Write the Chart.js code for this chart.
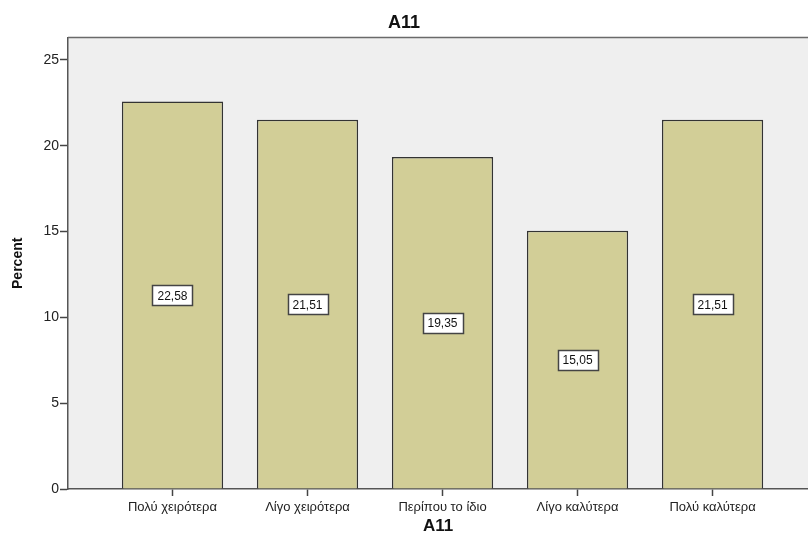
<!DOCTYPE html>
<html>
<head>
<meta charset="utf-8">
<style>
  html, body { margin: 0; padding: 0; background: #fff; overflow: hidden; }
  #wrap { width: 808px; height: 538px; }
</style>
<script src="https://cdn.jsdelivr.net/npm/chart.js@4/dist/chart.umd.min.js"></script>
</head>
<body>
<div id="wrap"><canvas id="chart-a11"></canvas></div>
<script>
// ── Data ──────────────────────────────────────────────────────────────────────
const categories = ['Πολύ χειρότερα', 'Λίγο χειρότερα', 'Περίπου το ίδιο', 'Λίγο καλύτερα', 'Πολύ καλύτερα'];
const percents   = [22.58, 21.51, 19.35, 15.05, 21.51];
const yTicks     = [0, 5, 10, 15, 20, 25];

const FONT = '"Liberation Sans", Arial, sans-serif';

// plot background + top frame line + boxed value labels
const spssLook = {
  id: 'spssLook',
  beforeDraw(chart) {
    const { ctx, chartArea: a } = chart;
    ctx.save();
    ctx.fillStyle = '#efefef';
    ctx.fillRect(a.left, a.top, a.right - a.left, a.bottom - a.top);
    ctx.restore();
  },
  afterDraw(chart) {
    const { ctx, chartArea: a } = chart;
    ctx.save();
    ctx.strokeStyle = '#6a6a6a';
    ctx.lineWidth = 1.5;
    ctx.beginPath();
    ctx.moveTo(a.left, a.top);
    ctx.lineTo(a.right, a.top);
    ctx.stroke();
    ctx.restore();
  },
  afterDatasetsDraw(chart) {
    const { ctx } = chart;
    const yScale = chart.scales.y;
    ctx.save();
    ctx.font = `12px ${FONT}`;
    ctx.textAlign = 'center';
    ctx.textBaseline = 'middle';
    chart.getDatasetMeta(0).data.forEach((bar, i) => {
      const txt = percents[i].toFixed(2).replace('.', ',');
      const cy  = yScale.getPixelForValue(percents[i] / 2);
      const w   = Math.round(ctx.measureText(txt).width + 10);
      const h   = 20;
      const x0  = Math.round(bar.x - w / 2) + 0.5;
      const y0  = Math.round(cy - h / 2) + 0.5;
      ctx.fillStyle = '#fff';
      ctx.fillRect(x0, y0, w, h);
      ctx.strokeStyle = '#444';
      ctx.lineWidth = 1.5;
      ctx.strokeRect(x0, y0, w, h);
      ctx.fillStyle = '#111';
      ctx.fillText(txt, bar.x, cy + 1);
    });
    ctx.restore();
  },
};

new Chart(document.getElementById('chart-a11'), {
  type: 'bar',
  data: {
    datasets: [{
      label: 'Percent',
      data: categories.map((c, i) => ({ x: i, y: percents[i] })),
      backgroundColor: '#d2ce97',
      borderColor: '#333',
      borderWidth: 1.5,
      categoryPercentage: 1,
      barPercentage: 0.75,
    }],
  },
  plugins: [spssLook],
  options: {
    responsive: true,
    maintainAspectRatio: false,
    animation: false,
    layout: { padding: 0 },
    plugins: {
      legend: { display: false },
      tooltip: { enabled: false },
      title: {
        display: true,
        text: 'A11',
        color: '#111',
        font: { family: FONT, size: 18, weight: 'bold' },
        padding: { top: 12, bottom: 4 },
      },
    },
    scales: {
      x: {
        type: 'linear',
        offset: false,
        min: -0.774,
        max: 4.707,
        afterBuildTicks: s => { s.ticks = categories.map((c, i) => ({ value: i })); },
        afterFit: s => { s.height = 49; },
        grid: { offset: false, drawOnChartArea: false, color: '#444', tickLength: 7, tickWidth: 1.5 },
        border: { color: '#555', width: 1.5 },
        ticks: {
          autoSkip: false,
          maxRotation: 0,
          padding: 4,
          color: '#222',
          font: { family: FONT, size: 13 },
          callback: v => categories[v] ?? '',
        },
        title: {
          display: true,
          text: 'A11',
          color: '#111',
          font: { family: FONT, size: 17, weight: 'bold' },
          padding: { top: 0, bottom: 1 },
        },
      },
      y: {
        min: 0,
        max: 26.3,
        afterBuildTicks: s => { s.ticks = yTicks.map(v => ({ value: v })); },
        afterFit: s => { s.width = 68; },
        grid: { drawOnChartArea: false, color: '#444', tickLength: 8, tickWidth: 1.5 },
        border: { color: '#555', width: 1.5 },
        ticks: {
          padding: 1,
          color: '#222',
          font: { family: FONT, size: 14 },
        },
        title: {
          display: true,
          text: 'Percent',
          color: '#111',
          font: { family: FONT, size: 14, weight: 'bold' },
          padding: { top: 10, bottom: 0 },
        },
      },
    },
  },
});
</script>
</body>
</html>
